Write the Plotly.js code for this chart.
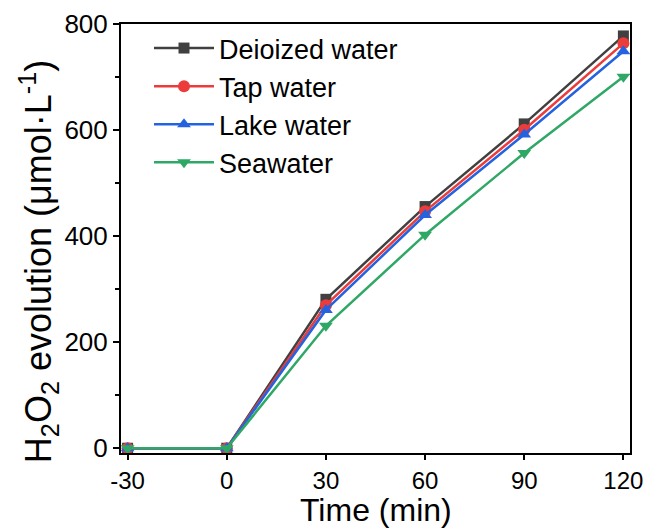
<!DOCTYPE html>
<html>
<head>
<meta charset="utf-8">
<script src="https://cdn.plot.ly/plotly-3.0.1.min.js"></script>
<style>html,body{margin:0;padding:0;background:#fff;}#chart{width:649px;height:529px;}</style>
</head>
<body>
<div id="chart"></div>
<script>
const timeMin = [-30, 0, 30, 60, 90, 120];
const deionized = [0, 0, 281, 456, 612, 778];
const tapWater = [0, 0, 270, 447, 601, 764];
const lakeWater = [0, 0, 261, 440, 592, 749];
const seawater = [0, 0, 231, 403, 557, 701];
const seriesNames = ["Deioized water", "Tap water", "Lake water", "Seawater"];
const xTicks = [-30, 0, 30, 60, 90, 120];
const yTicks = [0, 200, 400, 600, 800];
const xTitle = "Time (min)";
const yTitle = "H<sub>2</sub>O<sub>2</sub> evolution (μmol·L<sup>-1</sup>)";

const colors = ["#404040", "#ec3b3b", "#2462e0", "#2fa866"];
const symbols = ["square", "circle", "triangle-up", "triangle-down"];
const ys = [deionized, tapWater, lakeWater, seawater];

const traces = ys.map((y, i) => ({
  x: timeMin, y: y, name: seriesNames[i], type: "scatter", mode: "lines+markers",
  line: {color: colors[i], width: 2.5},
  marker: {color: colors[i], symbol: symbols[i], size: i === 0 ? 11 : 12}
}));

const layout = {
  width: 649, height: 529,
  margin: {l: 121, r: 19, t: 24, b: 76},
  paper_bgcolor: "#fff", plot_bgcolor: "#fff",
  font: {family: "Liberation Sans, Arial, sans-serif", color: "#000"},
  showlegend: true,
  legend: {x: 0.055, y: 1.0, xanchor: "left", yanchor: "top", bgcolor: "rgba(0,0,0,0)",
           font: {size: 27, color: "#000"}, tracegroupgap: 0, itemwidth: 60},
  xaxis: {
    range: [-32, 122], tickvals: xTicks, ticktext: xTicks.map(String),
    showgrid: false, zeroline: false, showline: true, linecolor: "#000", linewidth: 2, mirror: true,
    ticks: "outside", ticklen: 5, tickwidth: 2, tickcolor: "#000",
    tickfont: {size: 24, color: "#000"}
  },
  yaxis: {
    range: [-9, 800.5], tickvals: yTicks, ticktext: yTicks.map(String),
    showgrid: false, zeroline: false, showline: true, linecolor: "#000", linewidth: 2, mirror: true,
    ticks: "outside", ticklen: 6, tickwidth: 2, tickcolor: "#000",
    minor: {tickvals: [100, 300, 500, 700], ticks: "outside", ticklen: 4, tickwidth: 2, tickcolor: "#000", showgrid: false},
    tickfont: {size: 26, color: "#000"}
  },
  annotations: [{
    text: xTitle, xref: "paper", yref: "paper", x: 0.5, y: -0.133,
    xanchor: "center", yanchor: "middle", showarrow: false,
    font: {size: 32, color: "#000"}
  }, {
    text: yTitle, xref: "paper", yref: "paper", x: -0.163, y: 0.445, textangle: -90,
    xanchor: "center", yanchor: "middle", showarrow: false,
    font: {size: 36, color: "#000"}
  }]
};

Plotly.newPlot("chart", traces, layout, {displayModeBar: false, staticPlot: true});
</script>
</body>
</html>
